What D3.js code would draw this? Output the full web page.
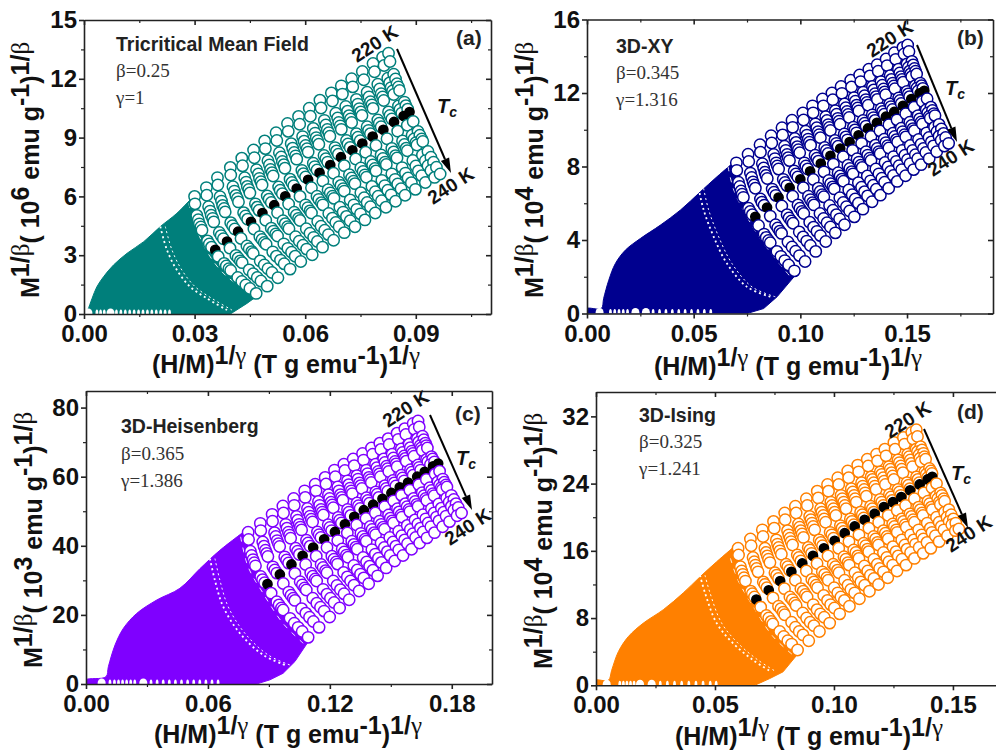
<!DOCTYPE html>
<html>
<head>
<meta charset="utf-8">
<script src="https://cdnjs.cloudflare.com/ajax/libs/d3/7.8.5/d3.min.js"></script>
<style>
  html, body { margin: 0; background: #fff; overflow: hidden; }
  svg { display: block; font-family: "Liberation Sans", Arial, sans-serif; }
  .tick text { font-size: 24px; font-weight: bold; fill: #111; }
  .tick line, .domain { stroke: #222; stroke-width: 1.6px; }
  .minor line { stroke-width: 1.2px; }
  text { white-space: pre; }
</style>
</head>
<body>
<svg width="996" height="750"></svg>
<script>
// Every isotherm is one row (220 K first, 240 K last), one entry per field step.
// x values are in units of 1e-4, y values in the unit given on each panel.

var xa = [
[300,332,362,397,428,460,490,521,552,582,611,640,671,698,726,755,784,810,826],
[301,333,363,398,430,462,492,523,554,585,614,643,674,701,729,759,788,814,830],
[306,338,369,404,436,468,499,530,562,593,622,652,683,710,739,768,797,824,840],
[310,342,373,408,440,473,503,535,566,597,627,656,688,715,743,773,802,829,845],
[313,345,376,412,443,476,506,538,570,601,630,660,691,719,747,777,806,833,849],
[317,349,380,416,447,480,510,542,574,605,634,664,695,723,751,781,810,837,853],
[320,352,383,419,450,483,513,545,577,608,637,667,698,726,754,784,813,840,856],
[335,367,398,433,465,497,528,559,591,622,651,681,712,739,768,797,826,853,869],
[340,372,403,438,470,502,532,564,595,626,656,685,716,743,772,801,830,857,873],
[346,378,409,444,475,508,538,569,601,632,661,690,722,749,777,806,835,862,878],
[356,388,418,453,484,516,546,577,608,639,668,697,728,755,783,812,841,867,883],
[364,396,426,461,493,525,555,586,617,648,677,706,737,764,792,822,851,877,893],
[380,412,442,477,508,540,570,601,632,662,691,720,751,778,806,835,864,890,906],
[386,418,448,483,514,546,576,607,637,668,697,726,757,783,811,840,869,895,911],
[393,424,455,489,520,552,582,613,644,674,703,731,762,789,817,845,874,900,916],
[398,429,459,494,525,556,586,617,648,678,706,735,766,792,820,849,877,903,919],
[417,448,478,512,542,574,603,634,664,694,722,751,781,808,835,863,892,918,933],
[428,459,489,522,553,584,613,643,674,703,732,760,790,816,844,872,900,926,941],
[439,470,499,533,563,594,623,653,683,712,740,768,798,824,851,879,907,933,948],
[450,480,510,543,573,604,633,663,692,722,750,777,807,833,860,888,916,941,956],
[467,497,526,559,588,619,647,677,706,735,762,790,819,845,871,899,926,951,966]];
var ya = [
[600,645,696,748,795,837,883,925,972,1008,1050,1091,1128,1164,1200,1237,1278,1310,1330],
[562,606,658,709,756,797,844,885,932,968,1009,1051,1087,1122,1159,1195,1236,1268,1288],
[503,547,598,649,695,736,782,823,869,905,947,988,1024,1059,1095,1131,1172,1203,1223],
[481,525,576,627,673,714,760,801,846,882,923,964,1000,1035,1071,1107,1148,1179,1199],
[460,504,554,605,651,692,737,778,824,860,900,941,977,1012,1048,1083,1124,1155,1175],
[444,488,538,589,635,675,721,762,807,843,884,925,960,995,1031,1067,1107,1138,1158],
[427,470,521,572,617,658,704,744,790,826,866,907,942,977,1013,1049,1089,1120,1140],
[373,416,466,517,562,602,648,688,733,769,809,849,885,920,955,990,1031,1061,1081],
[357,400,450,500,545,586,631,671,716,752,792,832,867,902,937,973,1013,1043,1063],
[341,384,434,484,529,569,614,654,699,735,775,815,850,884,920,955,995,1025,1045],
[327,370,420,470,515,555,600,640,685,720,760,800,835,870,905,940,980,1010,1030],
[294,336,385,434,478,517,561,600,644,679,718,757,791,825,860,894,933,963,982],
[258,299,347,395,438,476,519,557,601,634,673,711,745,778,811,845,883,912,931],
[245,286,333,380,423,461,504,542,585,618,656,694,727,760,793,827,865,893,912],
[231,271,318,365,408,445,488,526,568,601,639,677,710,742,775,808,846,874,893],
[222,262,309,356,398,435,477,515,557,590,627,665,698,730,763,796,833,862,880],
[186,225,271,317,358,394,435,472,513,545,582,619,651,682,715,747,783,811,829],
[166,205,250,295,335,371,412,448,489,520,557,593,624,655,687,719,755,782,800],
[148,186,231,275,315,351,391,427,467,498,534,569,601,631,663,694,730,756,774],
[130,168,212,256,295,331,370,405,445,476,511,547,578,608,639,670,705,732,749],
[105,142,185,229,268,302,341,376,415,445,480,515,545,575,606,636,671,697,714]];

var xb = [
[700,755,811,863,914,961,1012,1057,1104,1148,1191,1236,1278,1321,1360,1402,1441,1481,1503],
[702,758,813,866,917,964,1015,1060,1108,1152,1195,1240,1283,1326,1365,1407,1447,1486,1509],
[710,766,822,875,926,974,1025,1071,1119,1164,1207,1252,1295,1338,1378,1421,1460,1500,1523],
[716,772,828,881,932,980,1031,1077,1125,1170,1213,1258,1301,1344,1384,1427,1466,1506,1529],
[722,778,834,887,938,986,1037,1083,1131,1176,1219,1264,1307,1350,1390,1433,1472,1512,1535],
[727,783,839,892,943,991,1042,1088,1136,1181,1224,1269,1312,1355,1395,1438,1477,1517,1540],
[733,789,845,898,949,997,1048,1094,1141,1186,1229,1274,1318,1361,1400,1443,1482,1522,1545],
[757,813,868,920,971,1019,1069,1114,1162,1206,1249,1294,1337,1379,1419,1461,1500,1539,1562],
[765,820,876,928,979,1026,1077,1122,1169,1213,1256,1301,1343,1386,1425,1467,1506,1546,1568],
[775,830,885,937,988,1035,1085,1130,1177,1221,1263,1308,1350,1393,1432,1473,1512,1552,1574],
[789,844,898,950,1000,1046,1096,1141,1187,1231,1273,1317,1359,1401,1440,1481,1520,1559,1581],
[804,859,913,964,1014,1061,1111,1155,1201,1245,1287,1331,1373,1415,1453,1494,1533,1572,1594],
[830,884,938,989,1038,1084,1133,1177,1223,1266,1308,1352,1393,1434,1473,1513,1552,1590,1612],
[840,894,947,998,1047,1093,1142,1186,1232,1275,1316,1360,1401,1442,1480,1521,1559,1597,1619],
[851,904,958,1008,1057,1103,1152,1195,1241,1283,1325,1368,1409,1450,1488,1528,1566,1604,1626],
[859,912,966,1016,1064,1110,1159,1202,1247,1290,1331,1374,1415,1456,1494,1534,1572,1609,1631],
[890,942,995,1044,1092,1137,1185,1227,1272,1314,1354,1397,1437,1477,1515,1554,1592,1629,1650],
[909,961,1013,1062,1109,1153,1201,1243,1287,1329,1368,1411,1450,1490,1527,1566,1603,1640,1661],
[927,978,1030,1078,1125,1169,1216,1257,1301,1342,1382,1423,1463,1502,1539,1577,1614,1650,1671],
[945,996,1047,1094,1141,1184,1231,1272,1315,1356,1395,1436,1475,1514,1550,1588,1624,1660,1681],
[972,1022,1072,1119,1164,1207,1253,1293,1336,1375,1414,1454,1493,1531,1566,1604,1639,1675,1695]];
var yb = [
[820,867,918,967,1011,1052,1091,1130,1167,1200,1235,1269,1298,1329,1354,1385,1419,1448,1461],
[779,827,878,928,972,1013,1053,1092,1130,1163,1198,1233,1262,1293,1318,1349,1383,1412,1426],
[714,764,815,865,910,952,992,1032,1071,1104,1140,1175,1205,1236,1262,1294,1329,1358,1372],
[691,740,792,843,888,931,971,1011,1050,1084,1120,1155,1185,1217,1242,1274,1309,1339,1353],
[667,716,769,820,865,908,949,989,1028,1062,1099,1134,1164,1196,1222,1254,1289,1319,1333],
[649,699,751,803,848,891,932,973,1012,1046,1083,1118,1148,1180,1206,1238,1274,1304,1318],
[632,682,735,786,832,875,916,957,996,1030,1067,1102,1133,1165,1191,1223,1259,1289,1303],
[573,623,677,730,776,820,861,903,942,977,1014,1050,1081,1114,1140,1173,1209,1240,1254],
[555,606,660,713,759,803,845,887,926,961,999,1035,1066,1099,1126,1159,1195,1226,1240],
[538,589,643,696,743,787,829,871,910,945,983,1020,1051,1084,1110,1143,1180,1211,1225],
[526,577,631,684,730,774,816,858,898,933,970,1007,1038,1071,1097,1130,1167,1198,1212],
[479,530,585,638,685,729,771,813,853,888,926,963,994,1027,1054,1087,1123,1154,1169],
[432,483,538,591,638,682,724,766,807,842,880,916,948,981,1008,1041,1077,1109,1123],
[414,465,520,573,620,664,706,748,789,824,862,898,930,963,990,1023,1059,1091,1105],
[397,448,503,556,603,647,689,731,772,807,845,881,913,946,973,1006,1042,1073,1088],
[385,436,491,544,591,635,678,720,760,795,833,870,901,934,961,995,1031,1062,1077],
[338,389,444,497,544,588,630,672,712,748,786,822,854,887,914,947,983,1014,1029],
[311,362,417,470,517,562,604,646,687,722,760,797,828,861,888,922,958,989,1004],
[288,339,394,447,494,538,581,623,663,698,736,773,804,837,864,898,934,965,980],
[264,315,370,424,471,515,558,600,640,676,714,751,782,815,842,876,912,943,958],
[232,283,338,392,439,483,526,568,608,644,682,719,750,783,810,843,880,911,926]];

var xc = [
[798,858,916,969,1022,1076,1128,1177,1223,1269,1315,1361,1405,1446,1487,1531,1569,1610,1634],
[800,860,918,972,1025,1079,1132,1181,1227,1274,1320,1366,1411,1451,1492,1537,1574,1616,1640],
[809,870,928,983,1036,1090,1144,1193,1239,1287,1333,1380,1425,1465,1507,1552,1590,1631,1656],
[815,876,934,989,1042,1096,1150,1199,1245,1293,1339,1386,1431,1471,1513,1558,1596,1637,1662],
[822,883,941,996,1049,1103,1157,1206,1252,1300,1346,1393,1438,1479,1521,1566,1604,1645,1670],
[828,889,947,1002,1055,1109,1163,1212,1258,1306,1352,1399,1444,1484,1526,1571,1609,1650,1675],
[834,895,953,1007,1061,1115,1168,1217,1264,1311,1358,1404,1449,1490,1531,1576,1614,1655,1680],
[860,920,978,1032,1085,1139,1192,1241,1287,1334,1380,1426,1471,1511,1552,1597,1634,1676,1700],
[869,929,987,1041,1093,1147,1200,1248,1294,1341,1387,1433,1477,1517,1558,1603,1640,1682,1706],
[879,939,997,1050,1103,1156,1209,1257,1303,1349,1395,1441,1485,1525,1566,1610,1647,1695,1715],
[893,954,1011,1066,1118,1172,1225,1274,1320,1367,1413,1459,1503,1544,1585,1630,1667,1708,1733],
[911,971,1028,1081,1133,1186,1239,1286,1332,1378,1424,1470,1514,1553,1594,1638,1675,1718,1740],
[939,998,1054,1106,1157,1210,1261,1308,1353,1399,1444,1489,1533,1572,1612,1655,1692,1732,1756],
[950,1009,1065,1116,1167,1220,1271,1318,1363,1408,1453,1498,1541,1580,1620,1663,1700,1740,1763],
[962,1020,1076,1128,1179,1231,1282,1328,1373,1418,1463,1507,1550,1589,1628,1671,1708,1748,1771],
[970,1028,1084,1135,1186,1238,1289,1335,1379,1425,1469,1513,1555,1594,1634,1677,1713,1753,1776],
[1004,1061,1116,1167,1217,1268,1318,1364,1407,1452,1495,1539,1581,1619,1658,1700,1736,1775,1798],
[1025,1082,1136,1186,1235,1286,1335,1381,1424,1468,1511,1554,1596,1633,1672,1713,1749,1787,1810],
[1044,1100,1154,1203,1252,1302,1351,1396,1439,1483,1525,1568,1609,1646,1684,1725,1760,1798,1821],
[1064,1119,1172,1221,1270,1319,1367,1412,1454,1497,1539,1582,1622,1659,1697,1737,1772,1810,1832],
[1093,1147,1199,1248,1295,1344,1391,1435,1477,1519,1560,1602,1642,1678,1715,1755,1789,1826,1848]];
var yc = [
[439,465,491,515,537,559,578,598,619,636,651,667,683,697,710,726,739,754,761],
[418,444,471,495,517,540,559,579,600,618,632,648,665,679,693,708,722,737,744],
[384,411,438,462,485,508,528,548,570,588,603,619,636,651,665,680,694,710,717],
[372,399,427,451,474,497,517,537,559,577,593,609,626,641,654,670,684,700,707],
[360,387,415,439,462,486,505,526,548,567,582,598,615,630,644,660,674,690,697],
[351,378,406,431,454,477,497,518,540,559,574,591,608,623,637,653,667,683,690],
[342,369,398,422,446,469,489,510,532,551,566,583,600,615,629,645,659,676,683],
[311,339,368,393,416,440,461,482,505,524,539,556,574,589,604,620,634,650,658],
[302,330,359,384,408,432,453,474,497,516,531,549,566,582,596,613,627,643,651],
[293,321,350,375,399,424,444,466,488,508,523,540,558,573,588,604,619,635,643],
[289,317,346,371,395,419,440,462,484,503,519,536,553,569,583,600,614,630,638],
[263,291,320,346,370,395,415,437,460,479,495,513,530,546,561,577,592,608,616],
[238,266,296,321,346,370,391,413,436,456,471,489,507,522,537,554,568,585,593],
[229,257,287,312,337,361,382,404,427,447,462,480,498,513,528,545,560,576,584],
[220,248,278,304,328,353,373,396,419,438,454,472,489,505,520,537,551,568,576],
[214,242,272,298,322,347,367,390,413,432,448,466,483,499,514,531,545,562,570],
[190,218,248,274,298,323,343,366,389,408,424,442,459,475,490,507,521,538,546],
[176,205,234,260,285,310,330,353,376,395,411,429,447,463,478,495,509,526,534],
[164,193,222,248,273,298,318,341,364,383,399,417,435,451,466,483,497,514,522],
[152,181,211,236,261,286,307,329,352,372,388,406,424,440,455,472,486,503,511],
[135,164,194,220,244,269,290,313,336,356,372,390,408,423,438,455,470,487,495]];

var xd = [
[597,649,699,746,793,838,884,930,973,1016,1058,1100,1140,1179,1214,1252,1292,1327,1346],
[599,652,702,749,795,841,888,934,977,1020,1062,1104,1144,1183,1219,1257,1297,1332,1351],
[607,660,710,758,805,851,898,944,987,1030,1073,1116,1156,1195,1231,1269,1310,1345,1364],
[612,665,715,763,810,856,903,949,992,1035,1079,1121,1162,1201,1237,1275,1316,1351,1370],
[617,670,720,768,815,861,908,955,998,1041,1085,1127,1167,1207,1242,1281,1321,1357,1376],
[622,675,725,773,820,866,913,959,1003,1046,1089,1131,1172,1211,1247,1285,1325,1361,1380],
[628,681,731,779,826,872,919,965,1008,1051,1094,1136,1177,1216,1252,1290,1330,1366,1385],
[650,703,752,799,846,892,938,984,1027,1069,1112,1154,1194,1233,1269,1307,1347,1382,1401],
[657,710,759,806,853,899,945,991,1034,1076,1119,1161,1201,1240,1275,1313,1353,1388,1407],
[666,718,767,814,861,906,952,998,1040,1083,1125,1167,1207,1245,1281,1319,1358,1393,1412],
[674,726,774,821,867,912,958,1003,1045,1087,1129,1171,1210,1248,1283,1320,1360,1394,1413],
[692,744,792,838,884,929,975,1020,1063,1105,1147,1188,1228,1266,1301,1338,1378,1412,1431],
[716,767,815,861,907,951,997,1042,1083,1125,1167,1208,1247,1285,1319,1356,1395,1429,1448],
[726,777,825,871,916,961,1006,1050,1092,1133,1175,1216,1254,1292,1326,1363,1402,1436,1454],
[736,787,835,880,925,970,1015,1059,1100,1141,1183,1223,1262,1299,1333,1370,1409,1443,1461],
[743,793,841,887,931,976,1021,1064,1105,1146,1187,1228,1266,1304,1338,1374,1413,1447,1465],
[772,822,869,913,957,1001,1045,1088,1128,1168,1208,1248,1285,1322,1356,1392,1431,1465,1483],
[789,838,885,929,973,1016,1059,1102,1142,1182,1222,1261,1298,1335,1369,1405,1442,1475,1493],
[806,854,900,943,986,1029,1071,1113,1153,1192,1231,1270,1307,1343,1376,1412,1451,1484,1502],
[822,870,916,959,1002,1044,1087,1129,1168,1208,1247,1286,1322,1358,1391,1426,1462,1495,1512],
[847,894,939,982,1024,1065,1107,1149,1187,1226,1265,1303,1338,1375,1407,1442,1477,1510,1525]];
var yd = [
[163,174,185,195,205,213,222,231,239,247,255,262,269,275,281,289,295,301,304],
[155,166,177,187,197,205,214,223,231,239,247,254,261,267,273,281,287,293,296],
[141,152,163,173,184,192,201,210,218,226,234,241,248,254,260,268,275,281,284],
[136,147,158,168,179,188,197,206,214,222,230,237,245,251,257,265,272,278,280],
[132,143,154,164,175,184,193,202,210,218,226,233,241,247,253,261,268,274,276],
[128,139,150,160,171,180,189,198,206,214,222,229,237,243,249,257,264,270,272],
[124,135,146,156,167,176,185,194,202,210,218,225,233,239,245,253,260,266,269],
[112,123,134,144,155,164,173,182,190,198,206,213,221,227,233,241,248,254,258],
[109,120,131,141,152,161,170,179,187,195,203,210,218,224,230,238,245,251,255],
[105,116,127,137,148,157,166,175,183,191,199,206,214,220,226,234,241,247,252],
[102,113,124,135,145,154,163,172,181,189,197,204,212,218,224,232,239,245,248],
[93,104,115,125,136,145,154,163,171,179,187,194,202,208,214,222,229,235,240],
[83,94,105,115,126,135,144,153,161,169,177,184,192,198,204,212,219,225,229],
[80,91,102,112,123,132,141,150,158,166,174,181,189,195,201,209,216,222,226],
[76,87,98,108,119,128,137,146,154,162,170,177,185,191,197,205,212,218,222],
[73,84,95,105,116,125,134,143,151,159,167,174,182,188,194,202,209,215,219],
[64,75,86,96,107,116,125,134,142,150,158,165,173,179,185,193,200,206,209],
[58,69,80,90,101,110,119,128,136,144,152,159,167,173,179,187,194,200,203],
[53,64,75,85,96,105,114,123,131,139,147,154,162,168,174,182,189,195,198],
[49,60,71,81,92,101,110,119,127,135,143,150,158,164,170,178,185,191,193],
[42,53,64,74,85,94,103,112,120,128,136,143,151,157,163,171,178,184,186]];

// Outline of the solid low-field part, before and after the first field column.
var fillXa = [4,10,22,35,53,80,117,162,207,252,300];
var fillYa = [0,20,80,139,190,250,310,369,446,514,607];
var fillEndXa = [467,442,397];
var fillEndYa = [88,54,0];
var fillXb = [0,0,67,78,102,133,180,250,344,438,531,609,700];
var fillYb = [0,27,27,82,181,272,345,408,481,563,662,744,835];
var fillEndXb = [977,891,828,750];
var fillEndYb = [209,91,27,0];
var fillXc = [0,0,98,110,143,184,249,348,462,561,659,798];
var fillYc = [0,12,21,50,113,161,204,243,277,334,387,450];
var fillEndXc = [1093,1028,970,905,839];
var fillEndYc = [122,65,31,12,0];
var fillXd = [0,0,52,66,94,136,199,283,367,437,507,597];
var fillYd = [0,6,6,18,40,58,74,90,110,129,147,169];
var fillEndXd = [847,786,730,667];
var fillEndYd = [37,16,8,0];

// White broken arcs where the low-field points leave gaps.
var arcXa = [207,225,252,288,333,388], arcYa = [446,327,224,139,80,20];
var arc2Xa = [284,306,342,388,442], arc2Ya = [565,429,293,190,122];
var arcXb = [523,547,594,656,750,859], arcYb = [681,563,417,272,145,91];
var arc2Xb = [661,688,750,828,953], arc2Yb = [799,672,526,381,200];
var arcXc = [610,634,675,757,872,979], arcYc = [363,301,224,147,84,55];
var arc2Xc = [761,798,872,970,1069], arc2Yc = [426,339,262,175,118];
var arcXd = [437,458,507,576,660,737], arcYd = [131,110,74,50,30,16];
var arc2Xd = [565,597,660,744,828], arc2Yd = [151,125,94,58,36];

// Open centres of the points lying on the baseline.
var baseBigXa = [12,72], baseXa = [35,45,55,88,100,112,124,136,148,160,172,184,196,208,220,232];
var baseBigXb = [59,227,276], baseXb = [110,130,150,170,190,310,340,370,400,430,460,490,520,550,580];
var baseBigXc = [77,282], baseXc = [118,140,160,180,200,220,240,320,350,380,410,440,470,500,530,560,590,620,650];
var baseBigXd = [45,185,234], baseXd = [100,115,130,145,160,270,300,330,360,390,420,450,480,505];

var xTicksA = [0, 0.03, 0.06, 0.09], xLabelsA = ["0.00", "0.03", "0.06", "0.09"], xMinorA = [0.015, 0.045, 0.075, 0.105];
var yTicksA = [0, 3, 6, 9, 12, 15], yLabelsA = ["0", "3", "6", "9", "12", "15"], yMinorA = [1.5, 4.5, 7.5, 10.5, 13.5];
var xTicksB = [0, 0.05, 0.10, 0.15], xLabelsB = ["0.00", "0.05", "0.10", "0.15"], xMinorB = [0.025, 0.075, 0.125, 0.175];
var yTicksB = [0, 4, 8, 12, 16], yLabelsB = ["0", "4", "8", "12", "16"], yMinorB = [2, 6, 10, 14];
var xTicksC = [0, 0.06, 0.12, 0.18], xLabelsC = ["0.00", "0.06", "0.12", "0.18"], xMinorC = [0.03, 0.09, 0.15];
var yTicksC = [0, 20, 40, 60, 80], yLabelsC = ["0", "20", "40", "60", "80"], yMinorC = [10, 30, 50, 70];
var xTicksD = [0, 0.05, 0.10, 0.15], xLabelsD = ["0.00", "0.05", "0.10", "0.15"], xMinorD = [0.025, 0.075, 0.125];
var yTicksD = [0, 8, 16, 24, 32], yLabelsD = ["0", "8", "16", "24", "32"], yMinorD = [4, 12, 20, 28];

var tcRow = 10; // 230 K isotherm is the filled one

var panels = [
  { left: 84, right: 491, top: 20, bottom: 314, xMax: 0.1104, yMax: 15, yUnit: 0.01, color: "#007f7b", xs: xa, ys: ya,
    fillX: fillXa, fillY: fillYa, endX: fillEndXa, endY: fillEndYa, arcX: arcXa, arcY: arcYa, arc2X: arc2Xa, arc2Y: arc2Ya,
    bigX: baseBigXa, smallX: baseXa, xTicks: xTicksA, xLabels: xLabelsA, xMinor: xMinorA, yTicks: yTicksA, yLabels: yLabelsA, yMinor: yMinorA,
    exp: "6", xlab: [152, 373], ylab: [39, 298], name: "Tricritical Mean Field", nameAt: [116, 51], beta: "β=0.25", gamma: "γ=1", paramY: [77, 104], paramX: 116,
    tag: "(a)", tagAt: [456, 45], t220: [357, 63], t240: [433, 205], arrow: [397, 49, 451, 173], tc: [437, 113] },
  { left: 587, right: 993, top: 19.5, bottom: 313.5, xMax: 0.1903, yMax: 16, yUnit: 0.01, color: "#00008f", xs: xb, ys: yb,
    fillX: fillXb, fillY: fillYb, endX: fillEndXb, endY: fillEndYb, arcX: arcXb, arcY: arcYb, arc2X: arc2Xb, arc2Y: arc2Yb,
    bigX: baseBigXb, smallX: baseXb, xTicks: xTicksB, xLabels: xLabelsB, xMinor: xMinorB, yTicks: yTicksB, yLabels: yLabelsB, yMinor: yMinorB,
    exp: "4", xlab: [654, 375], ylab: [543, 298], name: "3D-XY", nameAt: [616, 53], beta: "β=0.345", gamma: "γ=1.316", paramY: [79, 106], paramX: 616,
    tag: "(b)", tagAt: [957, 45], t220: [872, 58], t240: [933, 177], arrow: [917, 45, 957, 142], tc: [945, 95] },
  { left: 86, right: 492, top: 391, bottom: 684, xMax: 0.1998, yMax: 84.8, yUnit: 0.1, color: "#7f00ff", xs: xc, ys: yc,
    fillX: fillXc, fillY: fillYc, endX: fillEndXc, endY: fillEndYc, arcX: arcXc, arcY: arcYc, arc2X: arc2Xc, arc2Y: arc2Yc,
    bigX: baseBigXc, smallX: baseXc, xTicks: xTicksC, xLabels: xLabelsC, xMinor: xMinorC, yTicks: yTicksC, yLabels: yLabelsC, yMinor: yMinorC,
    exp: "3", xlab: [154, 743], ylab: [42, 668], name: "3D-Heisenberg", nameAt: [121, 433], beta: "β=0.365", gamma: "γ=1.386", paramY: [460, 487], paramX: 121,
    tag: "(c)", tagAt: [455, 421], t220: [388, 428], t240: [450, 546], arrow: [430, 415, 472, 510], tc: [456, 465] },
  { left: 596, right: 1001, top: 392, bottom: 685.3, xMax: 0.1702, yMax: 34.9, yUnit: 0.1, color: "#ff8000", xs: xd, ys: yd,
    fillX: fillXd, fillY: fillYd, endX: fillEndXd, endY: fillEndYd, arcX: arcXd, arcY: arcYd, arc2X: arc2Xd, arc2Y: arc2Yd,
    bigX: baseBigXd, smallX: baseXd, xTicks: xTicksD, xLabels: xLabelsD, xMinor: xMinorD, yTicks: yTicksD, yLabels: yLabelsD, yMinor: yMinorD,
    exp: "4", xlab: [675, 745], ylab: [552, 669], name: "3D-Ising", nameAt: [639, 422], beta: "β=0.325", gamma: "γ=1.241", paramY: [448, 475], paramX: 639,
    tag: "(d)", tagAt: [957, 419], t220: [890, 439], t240: [951, 553], arrow: [924, 429, 968, 528], tc: [951, 480] }
];

var svg = d3.select("svg");

// Writes a run of text pieces, each raised by its own amount.
function addRuns(text, runs, raise) {
  var prev = 0;
  runs.forEach(function(r) {
    var up = r.up ? raise : 0;
    var span = text.append("tspan").text(r.t).attr("dy", prev - up);
    if (r.thin) span.attr("font-weight", "normal").attr("font-family", "Liberation Serif");
    prev = up;
  });
}

panels.forEach(function(p, idx) {
  var x = d3.scaleLinear().domain([0, p.xMax]).range([p.left, p.right]);
  var y = d3.scaleLinear().domain([0, p.yMax]).range([p.bottom, p.top]);
  var px = function(v) { return x(v * 1e-4); };
  var py = function(v) { return y(v * p.yUnit); };
  var pair = function(xs, ys) { return xs.map(function(v, i) { return [px(v), py(ys[i])]; }); };

  svg.append("clipPath").attr("id", "plot" + idx).append("rect")
      .attr("x", p.left).attr("y", p.top)
      .attr("width", p.right - p.left).attr("height", p.bottom - p.top);

  var plot = svg.append("g").attr("clip-path", "url(#plot" + idx + ")");
  var line = d3.line();
  var smooth = d3.line().curve(d3.curveCatmullRom);

  // Solid part, smooth along the top; its right edge follows the first field column.
  var firstCol = p.xs.map(function(row, k) { return [px(row[0]), py(p.ys[k][0])]; });
  var rest = firstCol.concat(pair(p.endX, p.endY));
  plot.append("path").attr("d", smooth(pair(p.fillX, p.fillY)) + "L" + line(rest).slice(1) + "Z")
      .attr("fill", p.color).attr("stroke", p.color).attr("stroke-width", 1);

  [[p.arcX, p.arcY, 1.8, "2 3", 0], [p.arcX, p.arcY, 1, "2 3", 5], [p.arc2X, p.arc2Y, 0.9, "5 6", 0]].forEach(function(a) {
    plot.append("path").attr("d", smooth(pair(a[0], a[1])))
        .attr("transform", "translate(" + a[4] + ",0)")
        .attr("fill", "none").attr("stroke", "#fff").attr("stroke-width", a[2]).attr("stroke-dasharray", a[3]);
  });

  plot.selectAll(".big").data(p.bigX).enter().append("ellipse").attr("class", "big")
      .attr("cx", px).attr("cy", y(0) - 1).attr("rx", 4).attr("ry", 4.5).attr("fill", "#fff");
  plot.selectAll(".small").data(p.smallX).enter().append("ellipse").attr("class", "small")
      .attr("cx", px).attr("cy", y(0) - 1).attr("rx", 1.4).attr("ry", 3.5).attr("fill", "#fff");

  // Open circles, one isotherm after the other so later rows sit on top.
  p.xs.forEach(function(row, k) {
    plot.append("g").selectAll("circle").data(row).enter().append("circle")
        .attr("cx", px)
        .attr("cy", function(d, j) { return py(p.ys[k][j]); })
        .attr("r", k == tcRow ? 4.6 : 5.7)
        .attr("fill", k == tcRow ? "#000" : "#fff")
        .attr("stroke", k == tcRow ? "#000" : p.color)
        .attr("stroke-width", 1.5);
  });

  // Axes, mirrored on top and right with inward ticks.
  var sides = [
    [d3.axisBottom(x), p.xTicks, p.xMinor, p.xLabels, "translate(0," + p.bottom + ")", 5, 3, 6],
    [d3.axisLeft(y), p.yTicks, p.yMinor, p.yLabels, "translate(" + p.left + ",0)", 5, 3, 2],
    [d3.axisTop(x), p.xTicks, p.xMinor, null, "translate(0," + p.top + ")", -5, -3, 0],
    [d3.axisRight(y), p.yTicks, p.yMinor, null, "translate(" + p.right + ",0)", -5, -3, 0]
  ];
  sides.forEach(function(s) {
    var labels = s[3];
    svg.append("g").attr("transform", s[4])
        .call(s[0].tickValues(s[1]).tickSize(s[5]).tickSizeOuter(0).tickPadding(s[7])
          .tickFormat(function(d, i) { return labels ? labels[i] : ""; }));
    svg.append("g").attr("class", "minor").attr("transform", s[4])
        .call(s[0].tickValues(s[2]).tickSize(s[6]).tickFormat(""))
        .select(".domain").remove();
  });

  // Axis titles.
  var xt = svg.append("text").attr("x", p.xlab[0]).attr("y", p.xlab[1])
      .attr("font-size", 25).attr("font-weight", "bold").attr("fill", "#111");
  addRuns(xt, [{t: "(H/M)"}, {t: "1/", up: 1}, {t: "γ", up: 1, thin: true}, {t: " (T g emu"}, {t: "-1", up: 1}, {t: ")"}, {t: "1/", up: 1}, {t: "γ", up: 1, thin: true}], 9);

  var yt = svg.append("text").attr("transform", "translate(" + p.ylab[0] + "," + p.ylab[1] + ") rotate(-90)")
      .attr("font-size", 25).attr("font-weight", "bold").attr("fill", "#111");
  addRuns(yt, [{t: "M"}, {t: "1/", up: 1}, {t: "β", up: 1, thin: true}, {t: "( 10"}, {t: p.exp, up: 1}, {t: " emu g"}, {t: "-1", up: 1}, {t: ")"}, {t: "1/", up: 1}, {t: "β", up: 1, thin: true}], 10);

  // Model name and exponents.
  svg.append("text").attr("x", p.nameAt[0]).attr("y", p.nameAt[1]).text(p.name)
      .attr("font-size", 19.5).attr("font-weight", "bold").attr("fill", "#222");
  [p.beta, p.gamma].forEach(function(t, i) {
    svg.append("text").attr("x", p.paramX).attr("y", p.paramY[i]).text(t)
        .attr("font-family", "Liberation Serif").attr("font-size", 19).attr("fill", "#333");
  });
  svg.append("text").attr("x", p.tagAt[0]).attr("y", p.tagAt[1]).text(p.tag)
      .attr("font-size", 21).attr("font-weight", "bold").attr("fill", "#222");

  // Temperature labels and the arrow between them.
  [[p.t220, "220 K"], [p.t240, "240 K"]].forEach(function(t) {
    svg.append("text").attr("transform", "translate(" + t[0][0] + "," + t[0][1] + ") rotate(-33)").text(t[1])
        .attr("font-size", 19).attr("font-weight", "bold").attr("fill", "#111");
  });
  var a = p.arrow, ang = Math.atan2(a[3] - a[1], a[2] - a[0]), head = 15;
  var bx = a[2] - head * Math.cos(ang), by = a[3] - head * Math.sin(ang);
  svg.append("line").attr("x1", a[0]).attr("y1", a[1]).attr("x2", bx).attr("y2", by)
      .attr("stroke", "#000").attr("stroke-width", 2);
  svg.append("path").attr("fill", "#000").attr("d", line([
    [a[2], a[3]],
    [bx - 4.5 * Math.sin(ang), by + 4.5 * Math.cos(ang)],
    [bx + 4.5 * Math.sin(ang), by - 4.5 * Math.cos(ang)]
  ]) + "Z");
  var tc = svg.append("text").attr("x", p.tc[0]).attr("y", p.tc[1])
      .attr("font-size", 20).attr("font-weight", "bold").attr("font-style", "italic").attr("fill", "#111");
  tc.append("tspan").text("T");
  tc.append("tspan").text("c").attr("font-size", 14).attr("dy", 4);
});
</script>
</body>
</html>
